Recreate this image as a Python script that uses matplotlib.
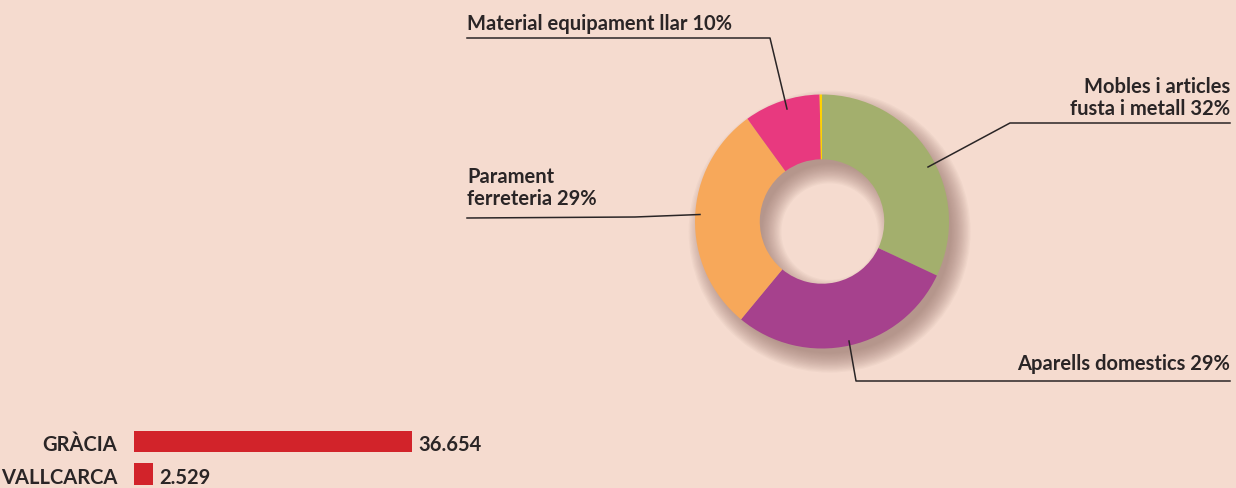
import matplotlib.pyplot as plt
from matplotlib.lines import Line2D

# donut data (clockwise from the top)
sectors = ['Mobles i articles\nfusta i metall 32%', 'Aparells domestics 29%',
           'Parament\nferreteria 29%', 'Material equipament llar 10%', '']
shares = [32, 29, 29, 9.7, 0.3]
sector_colors = ['#A3AF6D', '#A6418D', '#F7A85A', '#E8397F', '#FFD200']

# bar data
districts = ['GRÀCIA', 'VALLCARCA']
counts = [36654, 2529]
count_labels = ['36.654', '2.529']

BG = '#F5DBCF'
INK = '#2A2526'
W, H = 1236, 489

plt.rcParams['font.family'] = ['Lato', 'DejaVu Sans']
fig = plt.figure(figsize=(W / 100, H / 100), dpi=100, facecolor=BG)


def fx(px):
    return px / W


def fy(py):
    return 1 - py / H


# ---- donut ----
cx, cy, r = 822, 222.5, 127
span = 1.25
ax = fig.add_axes([fx(cx - r * span), fy(cy + r * span), 2 * r * span / W, 2 * r * span / H])
ax.set_facecolor('none')
ax.set_xlim(-span, span)
ax.set_ylim(-span, span)
ax.axis('off')

hole = 0.49
# soft drop shadow, offset to the lower right
n = 16
for i in range(n):
    t = i / (n - 1)
    outer = 1.11 - 0.15 * t
    inner = hole - 0.11 + 0.15 * t
    ax.pie([1], radius=outer, center=(0.06, -0.08), colors=['#8E6B62'],
           wedgeprops=dict(width=outer - inner, alpha=0.05, linewidth=0))

ax.pie(shares, radius=1, startangle=90, counterclock=False, colors=sector_colors,
       wedgeprops=dict(width=1 - hole, linewidth=0))

# ---- labels and leader lines ----
fs = 14.5
fw = 'bold'


def lead(pts):
    xs = [fx(p[0]) for p in pts]
    ys = [fy(p[1]) for p in pts]
    fig.add_artist(Line2D(xs, ys, color=INK, lw=1.1))


fig.text(fx(467), fy(30), sectors[3], ha='left', va='baseline', fontsize=fs,
         fontweight=fw, color=INK)
lead([(467, 39), (770, 39), (787, 110)])

fig.text(fx(1230), fy(115), sectors[0], ha='right', va='baseline', fontsize=fs,
         fontweight=fw, color=INK, linespacing=1.15)
lead([(1230, 124), (1010, 124), (928, 168)])

fig.text(fx(467), fy(205), sectors[2], ha='left', va='baseline', fontsize=fs,
         fontweight=fw, color=INK, linespacing=1.15)
lead([(467, 219), (635, 218), (700, 215.5)])

fig.text(fx(1230), fy(370), sectors[1], ha='right', va='baseline', fontsize=fs,
         fontweight=fw, color=INK)
lead([(1230, 382), (856, 382), (849, 342)])

# ---- bars ----
x0, x1 = 134, 412
bx = fig.add_axes([fx(x0), 0, (x1 - x0) / W, 65 / H])
bx.set_facecolor('none')
bx.set_xlim(0, max(counts))
bx.set_ylim(-14 / 32.5, 51 / 32.5)
bx.axis('off')
ypos = [1, 0]
bx.barh(ypos, counts, height=0.66, color='#D2232A')
for y, v, name, lab in zip(ypos, counts, districts, count_labels):
    bx.annotate(name, (0, y), xytext=(-17, -3), textcoords='offset pixels',
                ha='right', va='center', fontsize=fs, fontweight=fw,
                color=INK, annotation_clip=False)
    bx.annotate(lab, (v, y), xytext=(6, -3), textcoords='offset pixels',
                ha='left', va='center', fontsize=fs, fontweight=fw,
                color=INK, annotation_clip=False)

fig.savefig('out.png', dpi=100, facecolor=BG)
